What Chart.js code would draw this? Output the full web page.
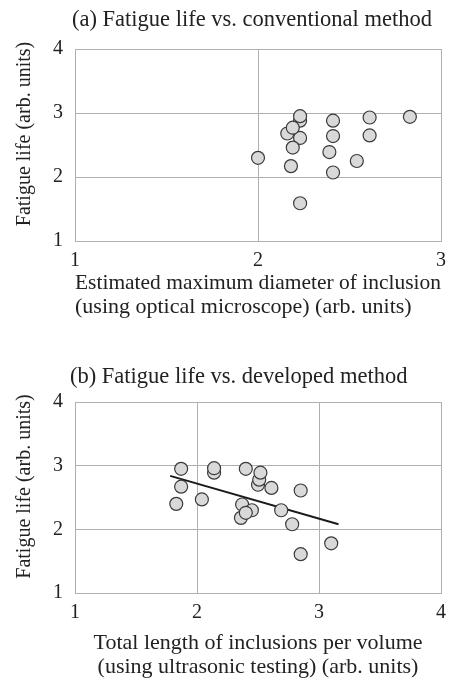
<!DOCTYPE html>
<html>
<head>
<meta charset="utf-8">
<script src="https://cdn.jsdelivr.net/npm/chart.js@4.4.1/dist/chart.umd.min.js"></script>
<style>
  body { margin: 0; background: #fff; width: 457px; height: 682px; overflow: hidden; }
  .panel { position: absolute; left: 0; width: 457px; }
  #panelA { top: 0; height: 330px; }
  #panelB { top: 330px; height: 352px; }
</style>
</head>
<body>
<div class="panel" id="panelA"><canvas id="chartA"></canvas></div>
<div class="panel" id="panelB"><canvas id="chartB"></canvas></div>
<script>
const FONT = '"Liberation Serif", "Times New Roman", serif';

// (a) fatigue life vs. estimated max diameter (optical microscope)
const diaX  = [2.23, 2.23, 2.16, 2.23, 2.19, 2.19, 2.00, 2.18, 2.23, 2.41, 2.41, 2.39, 2.41, 2.54, 2.61, 2.61, 2.83];
const lifeA = [2.88, 2.95, 2.68, 2.61, 2.77, 2.46, 2.30, 2.17, 1.59, 2.88, 2.64, 2.39, 2.07, 2.25, 2.93, 2.65, 2.94];

// (b) fatigue life vs. total inclusion length per volume (ultrasonic)
const lenX  = [1.87, 1.87, 1.83, 2.04, 2.14, 2.14, 2.40, 2.50, 2.51, 2.52, 2.61, 2.85, 2.37, 2.45, 2.36, 2.40, 2.69, 2.78, 3.10, 2.85];
const lifeB = [2.95, 2.67, 2.40, 2.47, 2.89, 2.96, 2.95, 2.70, 2.78, 2.89, 2.65, 2.61, 2.39, 2.30, 2.18, 2.26, 2.30, 2.08, 1.78, 1.61];
const trendX = [1.78, 3.16];
const trendY = [2.84, 2.08];

const xTicksA = [1, 2, 3];
const xTicksB = [1, 2, 3, 4];
const yTicks = [1, 2, 3, 4];

const textColor = '#222';
const gridColor = '#b0b0b0';

// header (left aligned) and rotated y label, placed relative to the plot area
const panelText = {
  id: 'panelText',
  afterDraw(chart, args, opts) {
    const { ctx, chartArea } = chart;
    ctx.save();
    ctx.fillStyle = textColor;
    ctx.textBaseline = 'middle';
    ctx.textAlign = 'left';
    ctx.font = '22.5px ' + FONT;
    ctx.fillText(opts.header, chartArea.left + opts.headerDx, chartArea.top - opts.headerDy);
    ctx.font = '20px ' + FONT;
    ctx.translate(25, (chartArea.top + chartArea.bottom) / 2 - 11);
    ctx.rotate(-Math.PI / 2);
    ctx.textAlign = 'center';
    ctx.fillText('Fatigue life (arb. units)', 0, 0);
    ctx.restore();
  }
};

function makeChart(id, xs, ys, xTicks, xTitle, header, opt) {
  const datasets = [{
    type: 'scatter',
    data: xs.map((x, i) => ({ x: x, y: ys[i] })),
    order: 1,
    pointRadius: 6.5,
    backgroundColor: '#d9d9d9',
    borderColor: '#3a3a3a',
    borderWidth: 1.2
  }];
  if (opt.trend) {
    datasets.push({
      type: 'line',
      data: trendX.map((x, i) => ({ x: x, y: trendY[i] })),
      order: 2,
      borderColor: '#1a1a1a',
      borderWidth: 2,
      pointRadius: 0,
      fill: false
    });
  }
  const font = { family: FONT, size: 20 };
  const titleFont = { family: FONT, size: 22, lineHeight: 24 / 22 };
  return new Chart(document.getElementById(id), {
    type: 'scatter',
    data: { datasets },
    options: {
      responsive: true,
      maintainAspectRatio: false,
      animation: false,
      layout: { padding: { top: opt.top, right: 16, left: 0, bottom: 0 } },
      plugins: {
        legend: { display: false },
        tooltip: { enabled: false },
        panelText: { header: header, headerDx: opt.headerDx, headerDy: opt.headerDy }
      },
      scales: {
        x: {
          type: 'linear',
          min: xTicks[0],
          max: xTicks[xTicks.length - 1],
          afterBuildTicks: s => { s.ticks = xTicks.map(v => ({ value: v })); },
          ticks: { font, color: textColor, padding: 8 },
          grid: { color: gridColor, drawTicks: false },
          border: { color: gridColor },
          title: {
            display: true, text: xTitle, align: opt.titleAlign,
            font: titleFont, color: textColor, padding: { top: 0, bottom: opt.titlePad }
          },
          afterFit: s => { s.height = 89; }
        },
        y: {
          type: 'linear',
          min: 1,
          max: 4,
          afterBuildTicks: s => { s.ticks = yTicks.map(v => ({ value: v })); },
          ticks: { font, color: textColor, padding: 12 },
          grid: { color: gridColor, drawTicks: false },
          border: { color: gridColor },
          afterFit: s => { s.width = 75; }
        }
      }
    },
    plugins: [panelText]
  });
}

makeChart('chartA', diaX, lifeA, xTicksA,
  ['Estimated maximum diameter of inclusion', '(using optical microscope) (arb. units)'],
  '(a) Fatigue life vs. conventional method',
  { top: 49, titlePad: 11, titleAlign: 'start', headerDx: -3, headerDy: 29, trend: false });

makeChart('chartB', lenX, lifeB, xTicksB,
  ['Total length of inclusions per volume', '(using ultrasonic testing) (arb. units)'],
  '(b) Fatigue life vs. developed method',
  { top: 72, titlePad: 3, titleAlign: 'center', headerDx: -5, headerDy: 25, trend: true });
</script>
</body>
</html>
